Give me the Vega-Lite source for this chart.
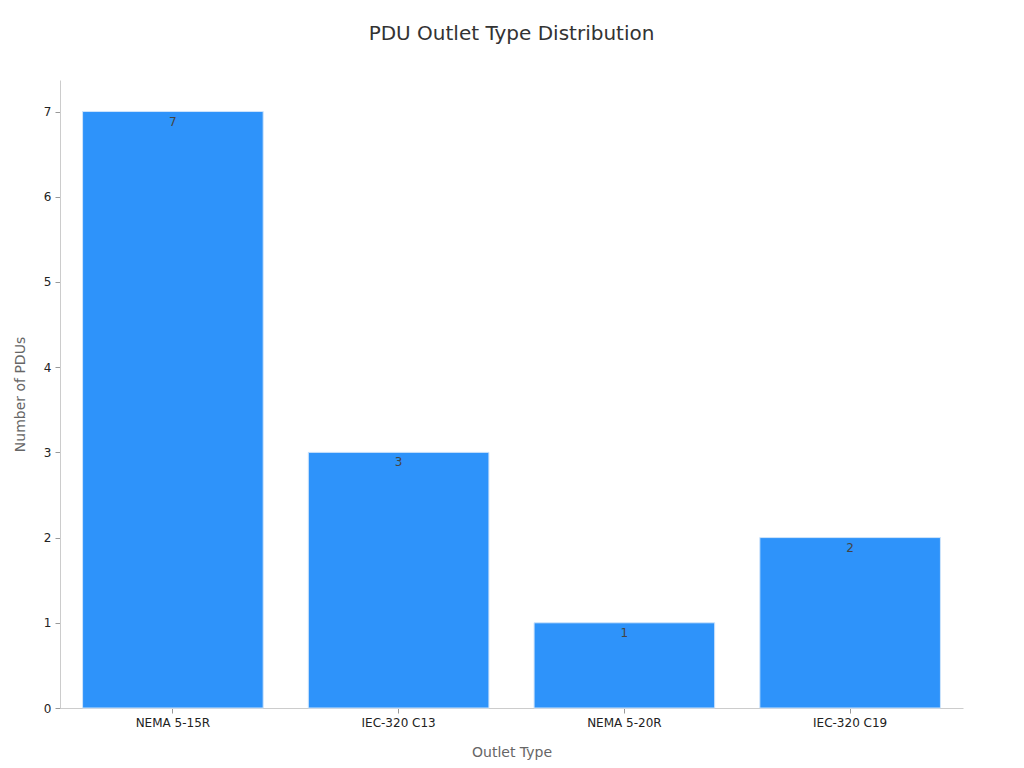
{
  "$schema": "https://vega.github.io/schema/vega-lite/v6.json",
  "autosize": "none",
  "width": 903,
  "height": 628,
  "padding": {"left": 60, "top": 80, "right": 61, "bottom": 60},
  "background": "white",
  "title": {"text": "PDU Outlet Type Distribution", "font": "DejaVu Sans", "fontSize": 20, "fontWeight": "normal", "color": "#333333", "offset": 36, "anchor": "middle"},
  "config": {"view": {"stroke": null}, "font": "DejaVu Sans"},
  "data": {"values": [
    {"type": "NEMA 5-15R", "count": 7},
    {"type": "IEC-320 C13", "count": 3},
    {"type": "NEMA 5-20R", "count": 1},
    {"type": "IEC-320 C19", "count": 2}
  ]},
  "encoding": {
    "x": {"field": "type", "type": "nominal", "sort": null, "title": "Outlet Type",
      "scale": {"paddingInner": 0.2, "paddingOuter": 0.1},
      "axis": {"labelAngle": 0, "labelFontSize": 12, "labelColor": "#222222", "titleFontSize": 14, "titleColor": "#666666", "titleFontWeight": "normal", "titlePadding": 17, "domainColor": "#cccccc", "tickColor": "#999999", "tickSize": 5, "labelPadding": 4}},
    "y": {"field": "count", "type": "quantitative", "title": "Number of PDUs",
      "scale": {"domain": [0, 7.37], "nice": false},
      "axis": {"values": [0,1,2,3,4,5,6,7], "grid": false, "labelFontSize": 12, "labelColor": "#222222", "titleFontSize": 14, "titleColor": "#666666", "titleFontWeight": "normal", "titlePadding": 16, "domainColor": "#cccccc", "tickColor": "#999999", "tickSize": 5, "labelPadding": 4}}
  },
  "layer": [
    {"mark": {"type": "bar", "color": "#2E93FA", "stroke": "#cfe4fb", "strokeWidth": 1}},
    {"mark": {"type": "text", "baseline": "top", "dy": 5, "fontSize": 12, "color": "#444444"},
      "encoding": {"text": {"field": "count", "type": "quantitative"}}}
  ]
}
